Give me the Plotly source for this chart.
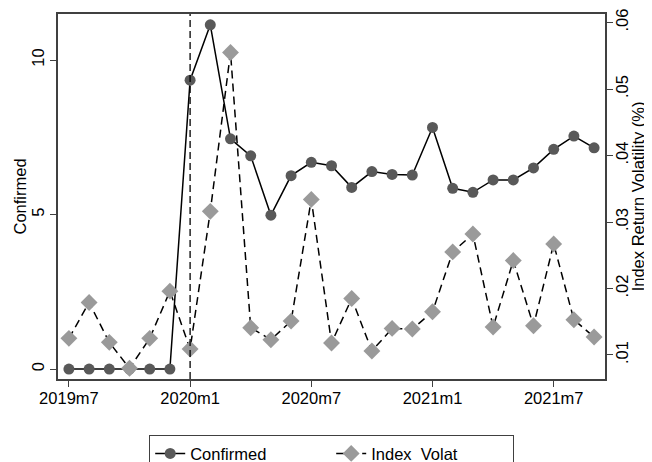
import plotly.graph_objects as go

months = ["2019m7", "2019m8", "2019m9", "2019m10", "2019m11", "2019m12",
          "2020m1", "2020m2", "2020m3", "2020m4", "2020m5", "2020m6",
          "2020m7", "2020m8", "2020m9", "2020m10", "2020m11", "2020m12",
          "2021m1", "2021m2", "2021m3", "2021m4", "2021m5", "2021m6",
          "2021m7", "2021m8", "2021m9"]

confirmed = [0, 0, 0, 0, 0, 0,
             9.35, 11.14, 7.45, 6.90, 4.98, 6.26,
             6.69, 6.58, 5.88, 6.39, 6.30, 6.28,
             7.82, 5.85, 5.72, 6.12, 6.12, 6.51,
             7.11, 7.54, 7.16]

index_volat = [0.0125, 0.0179, 0.0119, 0.0080, 0.0125, 0.0196,
               0.0109, 0.0316, 0.0555, 0.0141, 0.0123, 0.0151,
               0.0334, 0.0118, 0.0185, 0.0106, 0.0140, 0.0139,
               0.0165, 0.0255, 0.0282, 0.0142, 0.0242, 0.0144,
               0.0267, 0.0153, 0.0127]

x_ticks = ["2019m7", "2020m1", "2020m7", "2021m1", "2021m7"]
left_ticks = [0, 5, 10]
right_tickvals = [0.01, 0.02, 0.03, 0.04, 0.05, 0.06]
right_ticktext = [".01", ".02", ".03", ".04", ".05", ".06"]
event_month = "2020m1"

FONT = "Liberation Sans, Arial, Helvetica, sans-serif"
AX = "#404040"
FS = 16.5

fig = go.Figure()
fig.add_trace(go.Scatter(
    x=months, y=confirmed, name="Confirmed", mode="lines+markers",
    line=dict(color="black", width=1.5),
    marker=dict(symbol="circle", size=11, color="#595959"),
    yaxis="y"))
fig.add_trace(go.Scatter(
    x=months, y=index_volat, name="Index_Volat", mode="lines+markers",
    line=dict(color="black", width=1.5, dash="8px,5px"),
    marker=dict(symbol="diamond", size=13, color="#9a9a9a"),
    yaxis="y2"))

fig.add_shape(type="line", xref="x", yref="paper",
              x0=event_month, x1=event_month, y0=0, y1=1,
              line=dict(color="black", width=1.3, dash="7px,4px"))

fig.add_annotation(text="Confirmed", xref="paper", yref="paper",
                   x=-0.0695, y=0.5, textangle=-90, showarrow=False,
                   xanchor="center", yanchor="middle", font=dict(size=FS))
fig.add_annotation(text="Index Return Volatility (%)", xref="paper", yref="paper",
                   x=1.0600, y=0.5, textangle=-90, showarrow=False,
                   xanchor="center", yanchor="middle", font=dict(size=FS))

fig.update_layout(
    width=644, height=454,
    margin=dict(l=50, r=47, t=6, b=83, autoexpand=False),
    paper_bgcolor="white", plot_bgcolor="white",
    font=dict(family=FONT, size=FS, color="black"),
    showlegend=True,
    legend=dict(orientation="h", x=0.5, xanchor="center", y=-0.1534, yanchor="top",
                bordercolor=AX, borderwidth=1.2, bgcolor="white",
                font=dict(size=FS), entrywidth=136, entrywidthmode="pixels",
                tracegroupgap=0),
    xaxis=dict(type="category", range=[-0.54, 26.54], automargin=False,
               tickvals=x_ticks, ticks="outside", ticklen=6, tickcolor=AX,
               ticklabelstandoff=-3,
               showline=True, linecolor=AX, linewidth=1.5, mirror=True,
               showgrid=False, zeroline=False, tickfont=dict(size=FS)),
    yaxis=dict(range=[-0.32, 11.49], tickvals=left_ticks, tickangle=-90,
               automargin=False,
               ticks="outside", ticklen=6, tickcolor=AX,
               showline=True, linecolor=AX, linewidth=1.5,
               showgrid=False, zeroline=False),
    yaxis2=dict(range=[0.00639, 0.06128], overlaying="y", side="right",
                automargin=False,
                tickvals=right_tickvals, ticktext=right_ticktext, tickangle=-90,
                ticks="outside", ticklen=6, tickcolor=AX,
                ticklabelstandoff=-5,
                showline=True, linecolor=AX, linewidth=1.5,
                showgrid=False, zeroline=False),
)

fig.write_html("out.html")
